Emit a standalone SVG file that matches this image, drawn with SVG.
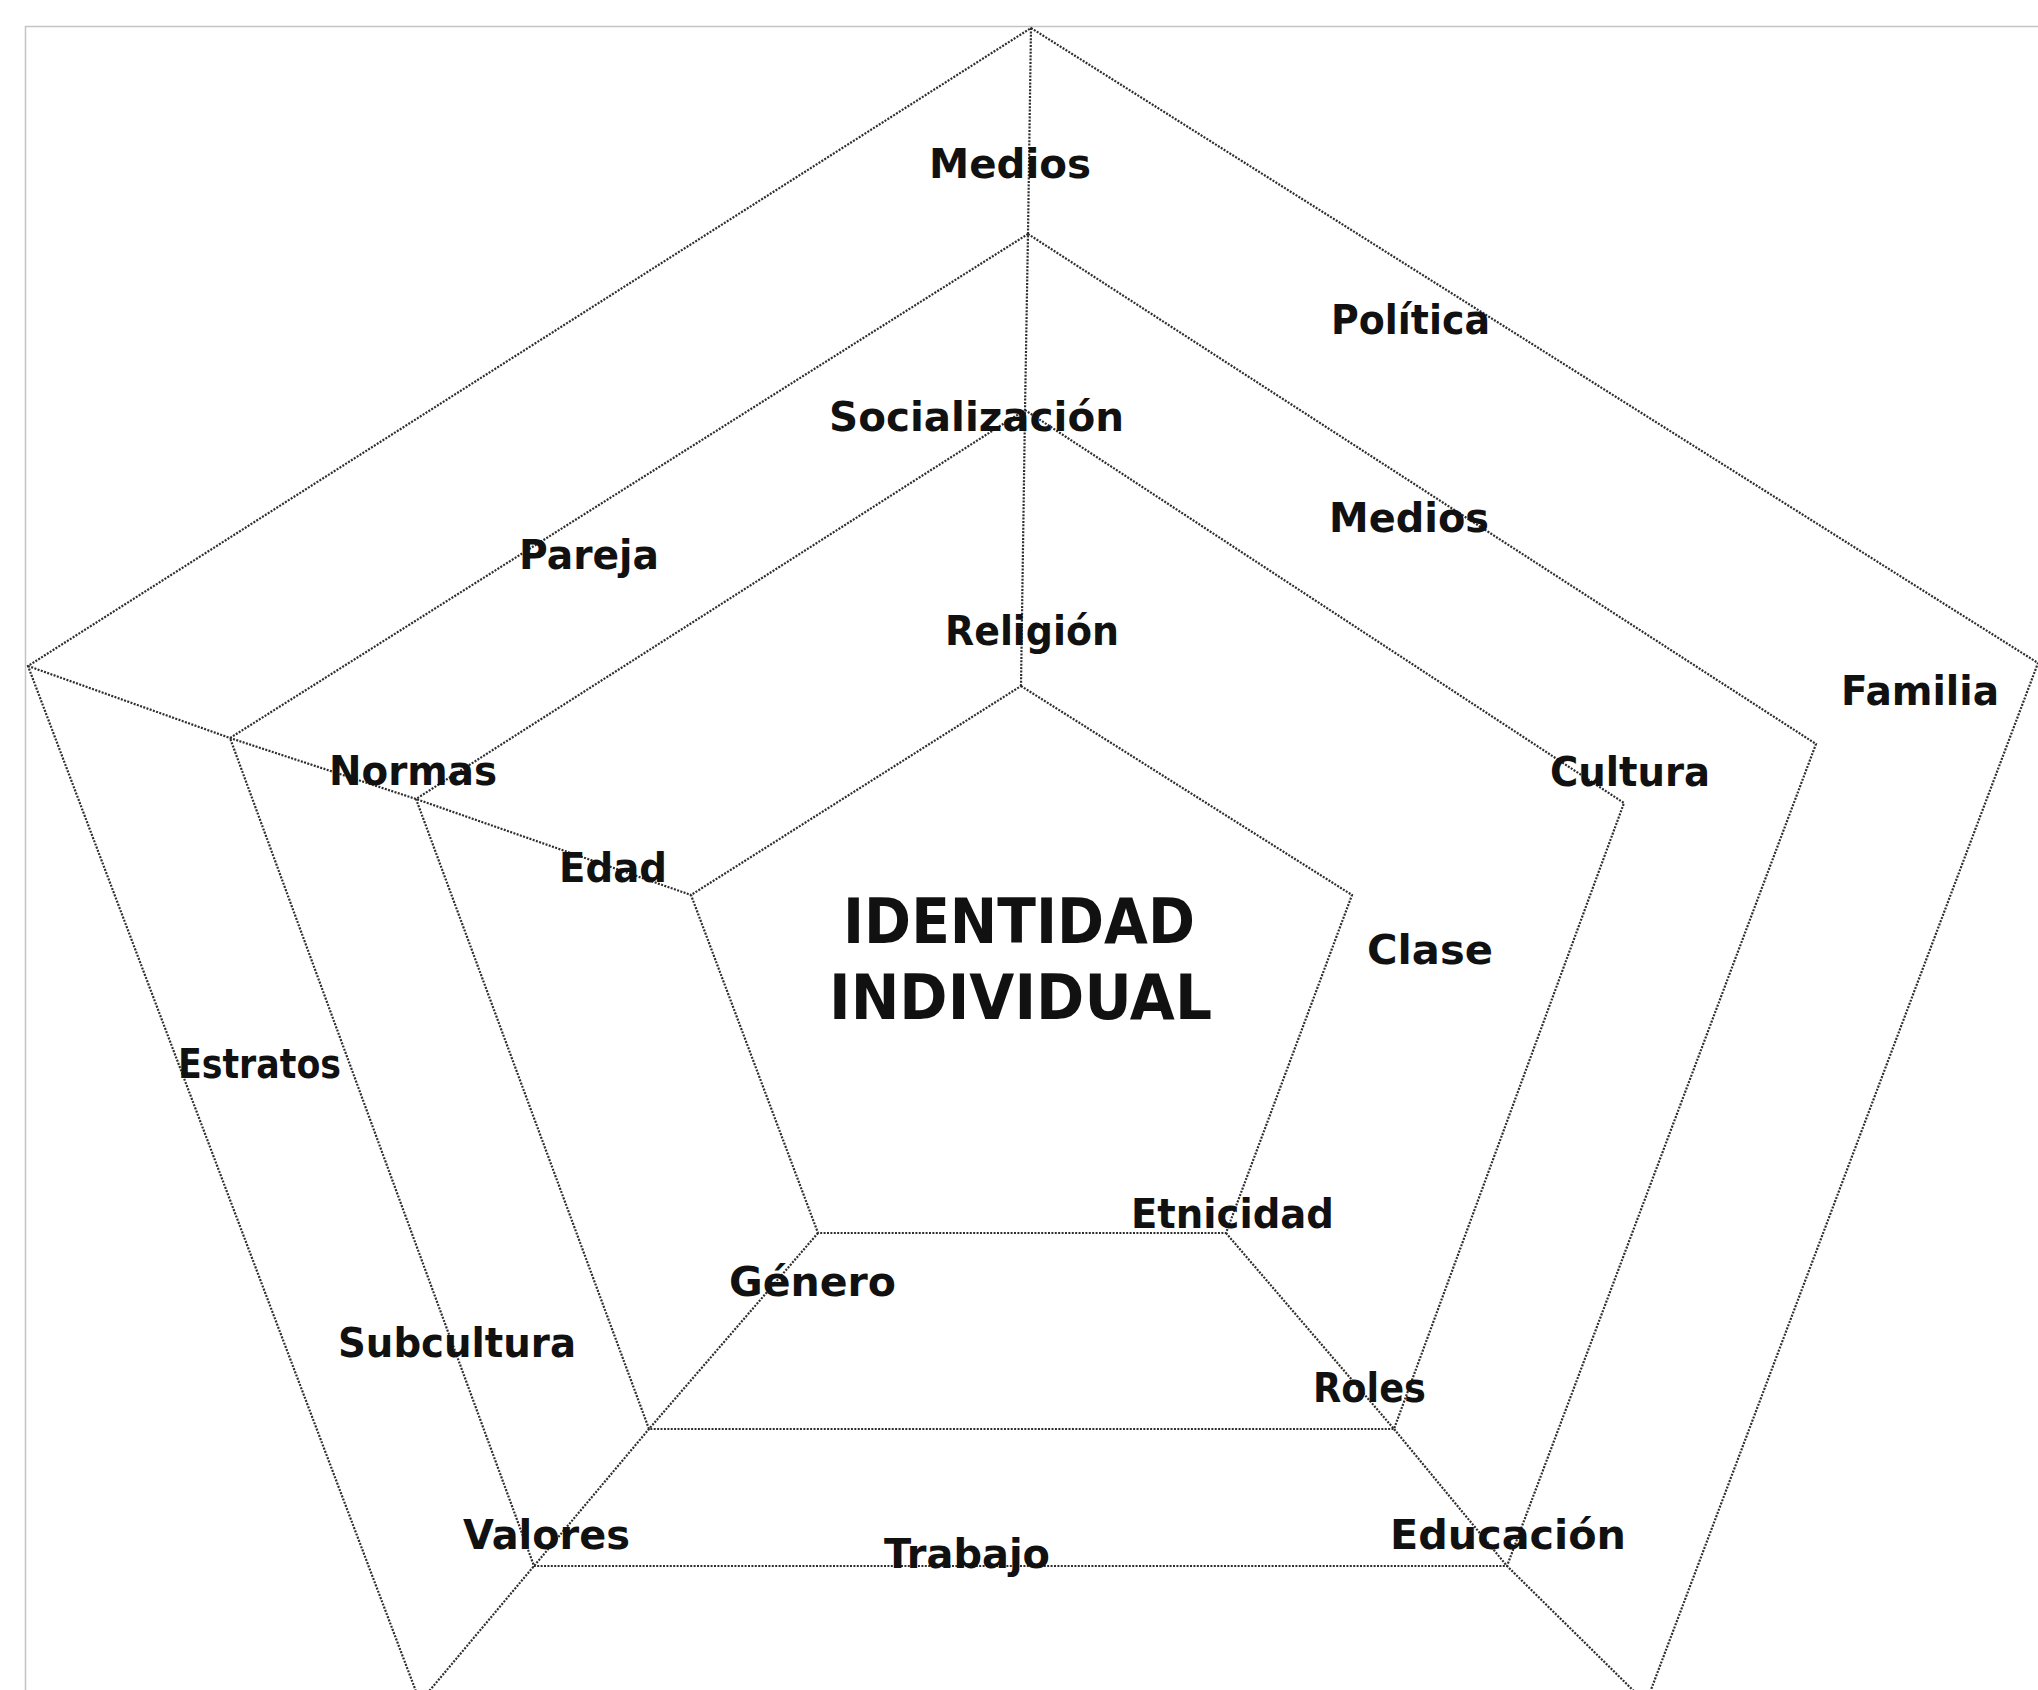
<svg xmlns="http://www.w3.org/2000/svg" width="2038" height="1690" viewBox="0 0 2038 1690">
<style>
.ring{fill:none;stroke:#2e2e2e;stroke-width:2.2;stroke-dasharray:2 1.4;stroke-linejoin:miter}
.spoke{fill:none;stroke:#2e2e2e;stroke-width:2.2;stroke-dasharray:2 1.4}
.lbl{font-family:"DejaVu Sans","Liberation Sans",sans-serif;font-weight:bold;font-size:40px;fill:#111}
.big{font-family:"DejaVu Sans","Liberation Sans",sans-serif;font-weight:bold;font-size:62px;fill:#111}
</style>
<rect x="0" y="0" width="2038" height="1690" fill="#fff"/>
<rect id="frame" x="25.5" y="26.5" width="2100" height="1700" fill="none" stroke="#c4c4c4" stroke-width="1.5"/>
<g id="rings">
<polygon id="ring-outer" class="ring" points="1031,28 2038,663 1646,1703 420,1702 28,666"/>
<polygon id="ring-2" class="ring" points="1028,234 1816,744 1507,1566 534,1566 230,738"/>
<polygon id="ring-3" class="ring" points="1025,410 1624,803 1394,1429 649,1429 416,799"/>
<polygon id="ring-inner" class="ring" points="1021,686 1352,895 1226,1233 818,1233 691,895"/>
</g>
<g id="connectors">
<polyline class="spoke" points="1031,28 1028,234 1025,410 1021,686"/>
<polyline class="spoke" points="28,666 230,738 416,799 691,895"/>
<polyline class="spoke" points="818,1233 649,1429 534,1566 420,1702"/>
<polyline class="spoke" points="1226,1233 1394,1429 1507,1566 1646,1703"/>
</g>
<g id="center">
<text class="big" x="843" y="943" textLength="352" lengthAdjust="spacingAndGlyphs">IDENTIDAD</text>
<text class="big" x="829" y="1019" textLength="383" lengthAdjust="spacingAndGlyphs">INDIVIDUAL</text>
</g>
<g id="labels">
<g id="l-medios-top"><text class="lbl" x="929" y="178" textLength="162" lengthAdjust="spacingAndGlyphs">Medios</text></g>
<g id="l-socializacion"><text class="lbl" x="829" y="431" textLength="295" lengthAdjust="spacingAndGlyphs">Socialización</text></g>
<g id="l-religion"><text class="lbl" x="945" y="645" textLength="174" lengthAdjust="spacingAndGlyphs">Religión</text></g>
<g id="l-politica"><text class="lbl" x="1331" y="334" textLength="159" lengthAdjust="spacingAndGlyphs">Política</text></g>
<g id="l-medios-right"><text class="lbl" x="1329" y="532" textLength="160" lengthAdjust="spacingAndGlyphs">Medios</text></g>
<g id="l-pareja"><text class="lbl" x="519" y="569" textLength="140" lengthAdjust="spacingAndGlyphs">Pareja</text></g>
<g id="l-familia"><text class="lbl" x="1841" y="705" textLength="158" lengthAdjust="spacingAndGlyphs">Familia</text></g>
<g id="l-normas"><text class="lbl" x="329" y="785" textLength="168" lengthAdjust="spacingAndGlyphs">Normas</text></g>
<g id="l-cultura"><text class="lbl" x="1550" y="786" textLength="160" lengthAdjust="spacingAndGlyphs">Cultura</text></g>
<g id="l-edad"><text class="lbl" x="559" y="882" textLength="108" lengthAdjust="spacingAndGlyphs">Edad</text></g>
<g id="l-clase"><text class="lbl" x="1367" y="964" textLength="126" lengthAdjust="spacingAndGlyphs">Clase</text></g>
<g id="l-estratos"><text class="lbl" x="178" y="1078" textLength="163" lengthAdjust="spacingAndGlyphs">Estratos</text></g>
<g id="l-etnicidad"><text class="lbl" x="1131" y="1228" textLength="203" lengthAdjust="spacingAndGlyphs">Etnicidad</text></g>
<g id="l-genero"><text class="lbl" x="729" y="1296" textLength="167" lengthAdjust="spacingAndGlyphs">Género</text></g>
<g id="l-subcultura"><text class="lbl" x="338" y="1357" textLength="238" lengthAdjust="spacingAndGlyphs">Subcultura</text></g>
<g id="l-roles"><text class="lbl" x="1313" y="1402" textLength="113" lengthAdjust="spacingAndGlyphs">Roles</text></g>
<g id="l-valores"><text class="lbl" x="463" y="1549" textLength="167" lengthAdjust="spacingAndGlyphs">Valores</text></g>
<g id="l-trabajo"><text class="lbl" x="884" y="1568" textLength="166" lengthAdjust="spacingAndGlyphs">Trabajo</text></g>
<g id="l-educacion"><text class="lbl" x="1390" y="1549" textLength="236" lengthAdjust="spacingAndGlyphs">Educación</text></g>
</g>
</svg>
